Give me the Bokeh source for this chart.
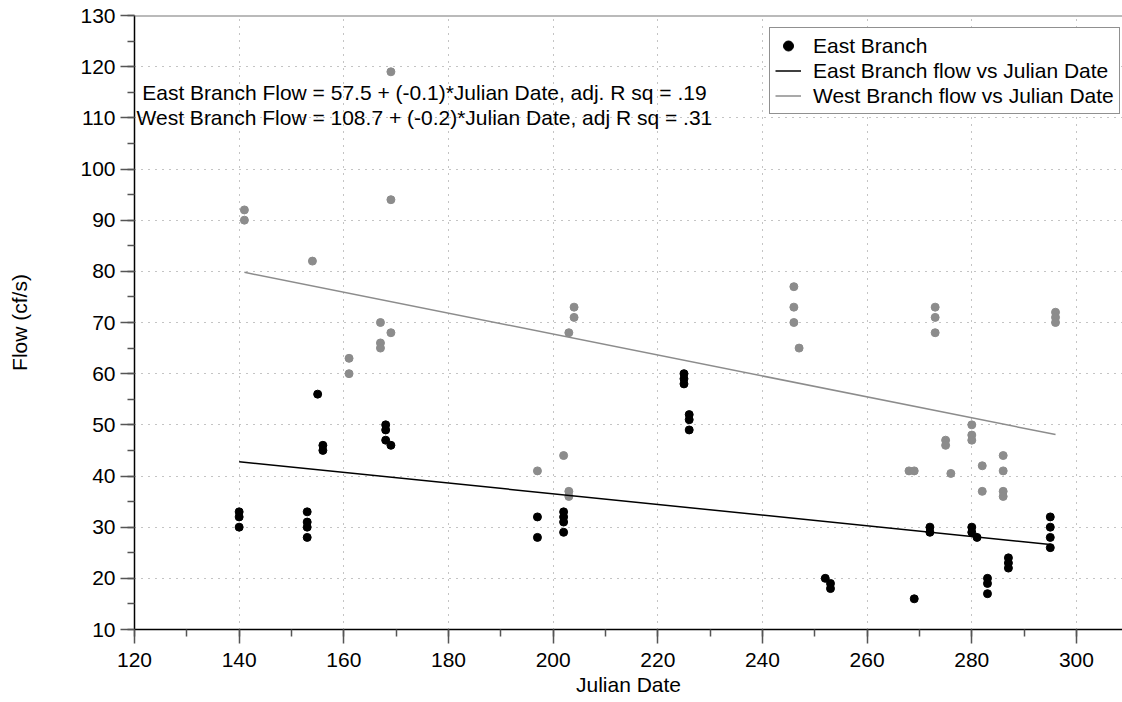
from bokeh.plotting import figure
from bokeh.models import (Range1d, SingleIntervalTicker, Legend, LegendItem, Label, Span)
from bokeh.embed import file_html
from bokeh.resources import INLINE

# East Branch observations (Julian date, flow cf/s)
east_x = [140, 140, 140, 153, 153, 153, 153, 155, 156, 156, 168, 168, 168, 169,
          197, 197, 202, 202, 202, 202, 225, 225, 225, 226, 226, 226,
          252, 253, 253, 269, 272, 272, 280, 280, 281, 283, 283, 283,
          287, 287, 287, 295, 295, 295, 295]
east_y = [33, 32, 30, 33, 31, 30, 28, 56, 46, 45, 50, 49, 47, 46,
          32, 28, 33, 32, 31, 29, 60, 59, 58, 52, 51, 49,
          20, 19, 18, 16, 30, 29, 30, 29, 28, 20, 19, 17,
          24, 23, 22, 32, 30, 28, 26]

# West Branch observations
west_x = [141, 141, 154, 161, 161, 167, 167, 167, 169, 169, 169,
          197, 202, 203, 203, 203, 204, 204,
          246, 246, 246, 247, 268, 269, 273, 273, 273, 275, 275, 276,
          280, 280, 280, 282, 282, 286, 286, 286, 286, 296, 296, 296]
west_y = [92, 90, 82, 63, 60, 70, 66, 65, 119, 94, 68,
          41, 44, 68, 37, 36, 73, 71,
          77, 73, 70, 65, 41, 41, 73, 71, 68, 47, 46, 40.5,
          50, 48, 47, 42, 37, 44, 41, 37, 36, 72, 71, 70]

# Regression line end points
east_fit_x = [140, 295]
east_fit_y = [42.8, 26.6]
west_fit_x = [141, 296]
west_fit_y = [79.8, 48.1]

eq_east = "East Branch Flow = 57.5 + (-0.1)*Julian Date, adj. R sq = .19"
eq_west = "West Branch Flow = 108.7 + (-0.2)*Julian Date, adj R sq = .31"

FONT = "Liberation Sans"
FS = "21px"
GRAY = "#8c8c8c"

p = figure(width=1122, height=702, output_backend="svg", toolbar_location=None,
           x_range=Range1d(120, 308.8), y_range=Range1d(10, 130),
           min_border_left=134, min_border_right=0, min_border_top=15, min_border_bottom=73)
p.title.visible = False
p.outline_line_color = None
p.background_fill_color = "white"

p.xaxis.ticker = SingleIntervalTicker(interval=20, num_minor_ticks=2)
p.yaxis.ticker = SingleIntervalTicker(interval=10, num_minor_ticks=2)

for ax in (p.xaxis[0], p.yaxis[0]):
    ax.axis_line_color = "black"
    ax.axis_line_width = 1.5
    ax.major_tick_line_color = "#555555"
    ax.major_tick_line_width = 1.5
    ax.minor_tick_line_color = "#555555"
    ax.minor_tick_line_width = 1.5
    ax.major_tick_in = 0
    ax.major_tick_out = 14
    ax.minor_tick_in = 0
    ax.minor_tick_out = 7
    ax.major_label_text_font = FONT
    ax.major_label_text_font_size = FS
    ax.major_label_text_color = "black"
    ax.axis_label_text_font = FONT
    ax.axis_label_text_font_size = FS
    ax.axis_label_text_font_style = "normal"
    ax.axis_label_text_color = "black"

p.xaxis.axis_label = "Julian Date"
p.yaxis.axis_label = "Flow (cf/s)"
p.xaxis.major_label_standoff = 9
p.xaxis.axis_label_standoff = 3
p.yaxis.major_label_standoff = 5
p.yaxis.axis_label_standoff = 46

for g in (p.xgrid[0], p.ygrid[0]):
    g.grid_line_color = "#888888"
    g.grid_line_width = 1
    g.grid_line_dash = "1 6"

p.add_layout(Span(location=130, dimension="width", line_color="#777777", line_width=2))

west_pts = p.scatter(west_x, west_y, size=8, marker="circle", fill_color=GRAY, line_color=GRAY)
east_pts = p.scatter(east_x, east_y, size=8, marker="circle", fill_color="black", line_color="black")
east_line = p.line(east_fit_x, east_fit_y, line_color="black", line_width=1.5)
west_line = p.line(west_fit_x, west_fit_y, line_color=GRAY, line_width=1.5)

p.add_layout(Label(x=175.4, y=115, text=eq_east, text_align="center", text_baseline="middle",
                   text_font=FONT, text_font_size=FS, text_color="black"))
p.add_layout(Label(x=175.4, y=110, text=eq_west, text_align="center", text_baseline="middle",
                   text_font=FONT, text_font_size=FS, text_color="black"))

legend = Legend(items=[
    LegendItem(label="East Branch", renderers=[east_pts]),
    LegendItem(label="East Branch flow vs Julian Date", renderers=[east_line]),
    LegendItem(label="West Branch flow vs Julian Date", renderers=[west_line]),
], location=(635, 515))
legend.label_text_font = FONT
legend.label_text_font_size = FS
legend.label_text_color = "black"
legend.label_height = 25
legend.glyph_height = 25
legend.glyph_width = 26
legend.spacing = 0
legend.padding = 5
legend.margin = 0
legend.label_standoff = 12
legend.border_line_color = "#222222"
legend.border_line_width = 1.5
legend.background_fill_color = "white"
legend.background_fill_alpha = 1
p.add_layout(legend)

open("out.html", "w").write(file_html(p, INLINE))
